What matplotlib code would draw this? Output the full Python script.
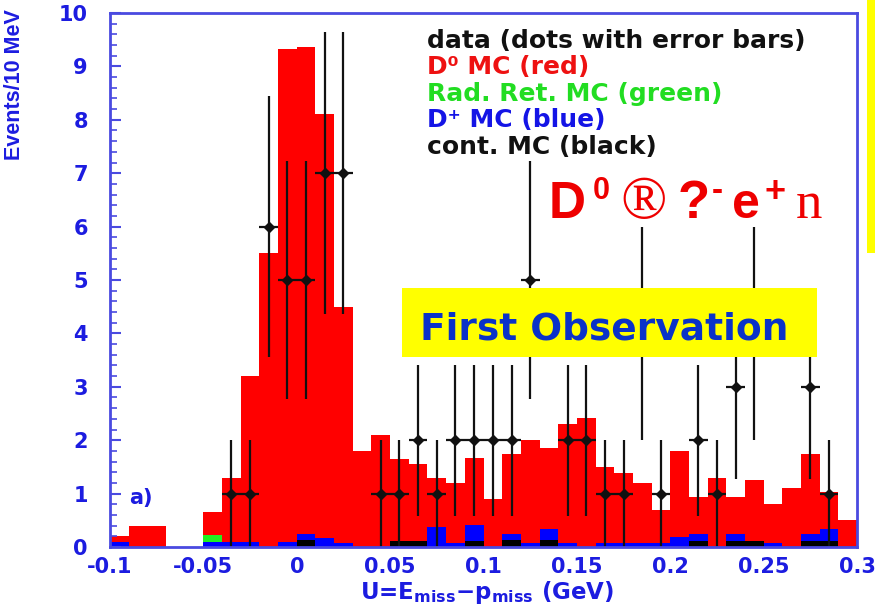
import numpy as np
import matplotlib
matplotlib.use('Agg')
import matplotlib.pyplot as plt
from matplotlib.patches import Rectangle
from matplotlib.ticker import MultipleLocator

# ---------------- data ----------------
bin_edges = np.round(np.arange(-0.10, 0.3001, 0.01), 3)
# stacked tops as drawn (each histogram filled from 0)
d0_mc = [0.2, 0.4, 0.4, 0, 0, 0.65, 1.3, 3.2, 5.5, 9.33,
         9.37, 8.1, 4.5, 1.8, 2.1, 1.65, 1.55, 1.3, 1.2, 1.67,
         0.9, 1.74, 2.0, 1.85, 2.3, 2.41, 1.5, 1.39, 1.2, 0.69,
         1.8, 0.94, 1.3, 0.94, 1.25, 0.8, 1.1, 1.75, 1.03, 0.5]
radret_mc = [0, 0, 0, 0, 0, 0.23, 0, 0, 0, 0,
             0, 0, 0, 0, 0, 0, 0, 0, 0, 0,
             0, 0, 0, 0, 0, 0, 0, 0, 0, 0,
             0, 0, 0, 0, 0, 0, 0, 0, 0, 0]
dplus_mc = [0.1, 0, 0, 0, 0, 0.1, 0.1, 0.1, 0, 0.1,
            0.24, 0.17, 0.08, 0, 0, 0.12, 0.12, 0.38, 0.08, 0.42,
            0, 0.24, 0.08, 0.33, 0.08, 0, 0.08, 0.08, 0.08, 0.08,
            0.18, 0.24, 0, 0.24, 0.12, 0.08, 0, 0.24, 0.33, 0]
cont_mc = [0, 0, 0, 0, 0, 0, 0, 0, 0, 0,
           0.13, 0, 0, 0, 0, 0.12, 0.12, 0, 0, 0.12,
           0, 0.13, 0, 0.13, 0, 0, 0, 0, 0, 0,
           0, 0.12, 0, 0.12, 0.12, 0, 0, 0.12, 0.12, 0]

data_x = [-0.035, -0.025, -0.015, -0.005, 0.005, 0.015, 0.025, 0.045, 0.055,
          0.065, 0.075, 0.085, 0.095, 0.105, 0.115, 0.125, 0.145, 0.155,
          0.165, 0.175, 0.185, 0.195, 0.215, 0.225, 0.235, 0.245, 0.275, 0.285]
data_n = [1, 1, 6, 5, 5, 7, 7, 1, 1,
          2, 1, 2, 2, 2, 2, 5, 2, 2,
          1, 1, 4, 1, 2, 1, 3, 4, 3, 1]

x_ticks = [-0.1, -0.05, 0, 0.05, 0.1, 0.15, 0.2, 0.25, 0.3]
x_ticklabels = ['-0.1', '-0.05', '0', '0.05', '0.1', '0.15', '0.2', '0.25', '0.3']
y_ticks = list(range(0, 11))

legend_lines = ["data (dots with error bars)", "D\u2070 MC (red)",
                "Rad. Ret. MC (green)", "D\u207a MC (blue)", "cont. MC (black)"]
legend_colors = ['#111111', '#ee1111', '#22dd22', '#1414e6', '#111111']

# ---------------- style ----------------
plt.rcParams['font.family'] = ['DejaVu Sans']
plt.rcParams['mathtext.fontset'] = 'custom'
plt.rcParams['mathtext.rm'] = 'DejaVu Sans:bold'
plt.rcParams['mathtext.it'] = 'DejaVu Sans:bold'
plt.rcParams['mathtext.bf'] = 'DejaVu Sans:bold'
plt.rcParams['mathtext.default'] = 'rm'

W, H = 875, 606
fig = plt.figure(figsize=(W / 100, H / 100), dpi=100, facecolor='white')

def fx(px):
    return px / W

def fy(py):
    return 1 - py / H

ax_l, ax_r, ax_t, ax_b = 110, 857, 13, 547
ax = fig.add_axes([fx(ax_l), fy(ax_b), (ax_r - ax_l) / W, (ax_b - ax_t) / H])

axis_blue = '#4a4ae0'
label_blue = '#1c1ce0'

# histograms
ax.stairs(d0_mc, bin_edges, fill=True, color='#ff0000', lw=0, zorder=1)
ax.stairs(radret_mc, bin_edges, fill=True, color='#22ee22', lw=0, zorder=1.1)
ax.stairs(dplus_mc, bin_edges, fill=True, color='#0000ff', lw=0, zorder=1.2)
ax.stairs(cont_mc, bin_edges, fill=True, color='#000000', lw=0, zorder=1.3)

# data points
data_err = np.sqrt(np.array(data_n, dtype=float))
ax.errorbar(data_x, data_n, yerr=data_err, xerr=0.005, fmt='D', color='#111111',
            ms=5, elinewidth=1.6, capsize=0, zorder=3)

ax.set_xlim(-0.1, 0.3)
ax.set_ylim(0, 10)
ax.set_xticks(x_ticks)
ax.set_xticklabels(x_ticklabels)
ax.set_yticks(y_ticks)
ax.yaxis.set_minor_locator(MultipleLocator(0.2))

for sp in ax.spines.values():
    sp.set_color(axis_blue)
    sp.set_linewidth(2)
    sp.set_zorder(5)

ax.tick_params(axis='y', which='major', direction='in', length=8, width=1.5,
               color=axis_blue, labelcolor=label_blue, labelsize=15, pad=16)
ax.tick_params(axis='y', which='minor', direction='in', length=5, width=1.2,
               color=axis_blue)
ax.tick_params(axis='x', which='major', direction='in', length=0,
               labelcolor=label_blue, labelsize=15, pad=7)
for lab in ax.get_xticklabels() + ax.get_yticklabels():
    lab.set_fontweight('bold')

ax.set_xlabel(r"U=E$_{miss}$" + "\u2212" + r"p$_{miss}$ (GeV)", color=label_blue,
              fontsize=16.5, fontweight='bold')
ax.xaxis.set_label_coords(0.505, -0.060)

fig.text(fx(15), fy(9), "Events/10 MeV", rotation=90, ha='center', va='top',
         color=label_blue, fontsize=15.5, fontweight='bold',
         family=['Liberation Sans Narrow', 'Liberation Sans', 'DejaVu Sans'])

ax.text(0.026, 0.08, "a)", transform=ax.transAxes, color=label_blue,
        fontsize=15, fontweight='bold', va='baseline', ha='left')

# legend text
for i, (txt, col) in enumerate(zip(legend_lines, legend_colors)):
    fig.text(fx(427), fy(48 + 26.4 * i), txt, color=col, fontsize=18,
             fontweight='bold', va='baseline', ha='left', zorder=10)

# "First Observation" box
fig.patches.append(Rectangle((fx(402), fy(357)), (817 - 402) / W, (357 - 288) / H,
                             transform=fig.transFigure, facecolor='#ffff00',
                             edgecolor='none', zorder=8))
fig.text(fx(420), fy(340), "First Observation", color='#0a32c8', fontsize=27,
         fontweight='bold', va='baseline', ha='left', zorder=9)

# right yellow strip
fig.patches.append(Rectangle((fx(867), fy(253)), 8 / W, 253 / H,
                             transform=fig.transFigure, facecolor='#ffff00',
                             edgecolor='none', zorder=8))

# reaction formula (red)
red = '#ee0000'
pieces = [
    ("D", 549, 218, 37, 'Liberation Sans', 'bold'),
    ("0", 593, 199, 22, 'Liberation Sans', 'bold'),
    ("\u00ae", 620, 218, 44, 'Liberation Serif', 'normal'),
    ("?", 678, 218, 38, 'Liberation Sans', 'bold'),
    ("-", 712, 200, 24, 'Liberation Sans', 'bold'),
    ("e", 732, 218, 36, 'Liberation Sans', 'bold'),
    ("+", 765, 202, 26, 'Liberation Sans', 'bold'),
    ("n", 796, 218, 38, 'Liberation Serif', 'normal'),
]
for txt, px, py, sz, fam, wt in pieces:
    fig.text(fx(px), fy(py), txt, color=red, fontsize=sz, family=[fam, 'DejaVu Sans'],
             fontweight=wt, va='baseline', ha='left', zorder=10)

fig.savefig('out.png', dpi=100, facecolor='white')
